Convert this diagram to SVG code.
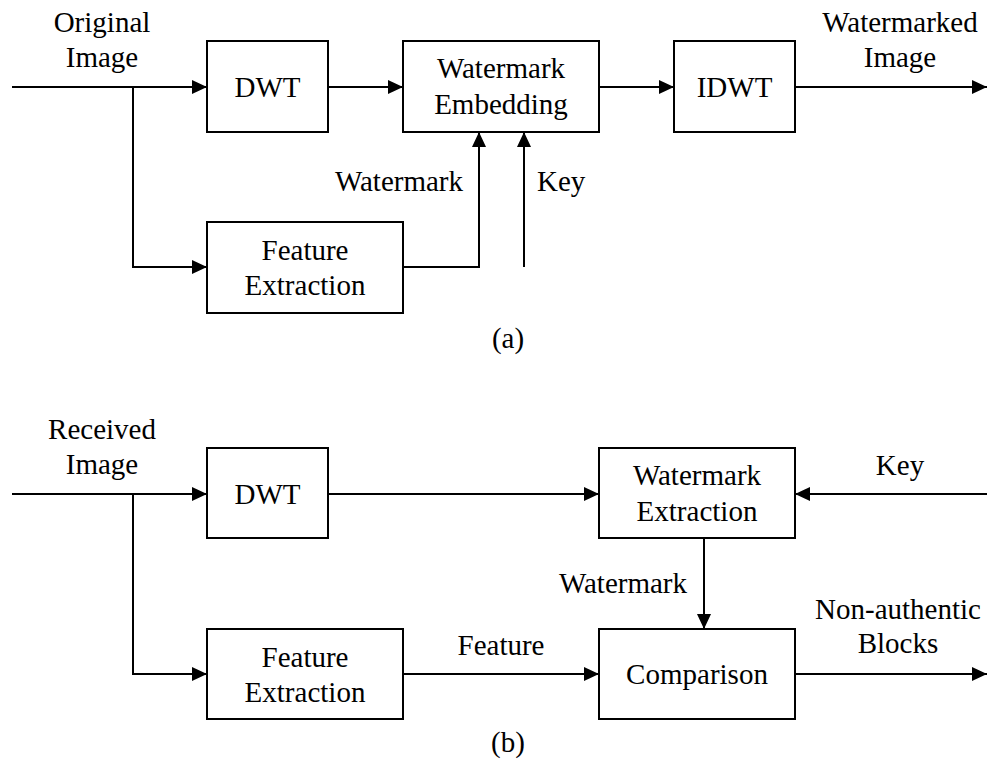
<svg xmlns="http://www.w3.org/2000/svg" width="987" height="763" viewBox="0 0 987 763" font-family="'Liberation Serif', Tinos, 'Times New Roman', Times, 'DejaVu Serif', serif">
<style>
  text { font-family: 'Liberation Serif', Tinos, 'Times New Roman', Times, 'DejaVu Serif', serif; font-size: 29px; fill: #000; }
  .c { text-anchor: middle; }
  .e { text-anchor: end; }
  .box { fill: #fff; stroke: #000; stroke-width: 2; }
  .ln { fill: none; stroke: #000; stroke-width: 2; }
  .arr { marker-end: url(#ah); }
</style>
<defs>
  <marker id="ah" markerUnits="userSpaceOnUse" markerWidth="16" markerHeight="14" refX="15" refY="7" orient="auto">
    <path d="M0,0 L15,7 L0,14 z" fill="#000"/>
  </marker>
</defs>
<rect width="987" height="763" fill="#fff"/>

<g id="connectors">
  <path class="ln arr" d="M12,87 H207"/>
  <path class="ln arr" d="M133,87 V267 H207"/>
  <path class="ln arr" d="M328,87 H403"/>
  <path class="ln arr" d="M599,87 H674"/>
  <path class="ln arr" d="M795,87 H987"/>
  <path class="ln arr" d="M403,267 H479 V132"/>
  <path class="ln arr" d="M524,267 V132"/>

  <path class="ln arr" d="M12,494 H207"/>
  <path class="ln arr" d="M133,494 V674 H207"/>
  <path class="ln arr" d="M328,494 H599"/>
  <path class="ln arr" d="M987,494 H795"/>
  <path class="ln arr" d="M704,538 V629"/>
  <path class="ln arr" d="M403,674 H599"/>
  <path class="ln arr" d="M795,674 H987"/>
</g>

<g id="labels">
  <text class="c" x="102" y="32">Original</text>
  <text class="c" x="102" y="67">Image</text>
  <text class="c" x="900" y="32">Watermarked</text>
  <text class="c" x="900" y="67">Image</text>
  <text class="e" x="463" y="191">Watermark</text>
  <text x="537" y="191">Key</text>
  <text class="c" x="508" y="348">(a)</text>

  <text class="c" x="102" y="439">Received</text>
  <text class="c" x="102" y="474">Image</text>
  <text class="c" x="900" y="475">Key</text>
  <text class="e" x="687" y="593">Watermark</text>
  <text class="c" x="898" y="619">Non-authentic</text>
  <text class="c" x="898" y="653">Blocks</text>
  <text class="c" x="501" y="655">Feature</text>
  <text class="c" x="508" y="752">(b)</text>
</g>

<g id="dwt-a">
  <rect class="box" x="207" y="41" width="121" height="91"/>
  <text class="c" x="267.5" y="97">DWT</text>
</g>
<g id="embed-a">
  <rect class="box" x="403" y="41" width="196" height="91"/>
  <text class="c" x="501" y="78">Watermark</text>
  <text class="c" x="501" y="114">Embedding</text>
</g>
<g id="idwt-a">
  <rect class="box" x="674" y="41" width="121" height="91"/>
  <text class="c" x="734.5" y="97">IDWT</text>
</g>
<g id="feature-a">
  <rect class="box" x="207" y="222" width="196" height="91"/>
  <text class="c" x="305" y="260">Feature</text>
  <text class="c" x="305" y="295">Extraction</text>
</g>

<g id="dwt-b">
  <rect class="box" x="207" y="448" width="121" height="90"/>
  <text class="c" x="267.5" y="504">DWT</text>
</g>
<g id="extract-b">
  <rect class="box" x="599" y="448" width="196" height="90"/>
  <text class="c" x="697" y="485">Watermark</text>
  <text class="c" x="697" y="521">Extraction</text>
</g>
<g id="feature-b">
  <rect class="box" x="207" y="629" width="196" height="90"/>
  <text class="c" x="305" y="667">Feature</text>
  <text class="c" x="305" y="702">Extraction</text>
</g>
<g id="compare-b">
  <rect class="box" x="599" y="629" width="196" height="90"/>
  <text class="c" x="697" y="684">Comparison</text>
</g>
</svg>
